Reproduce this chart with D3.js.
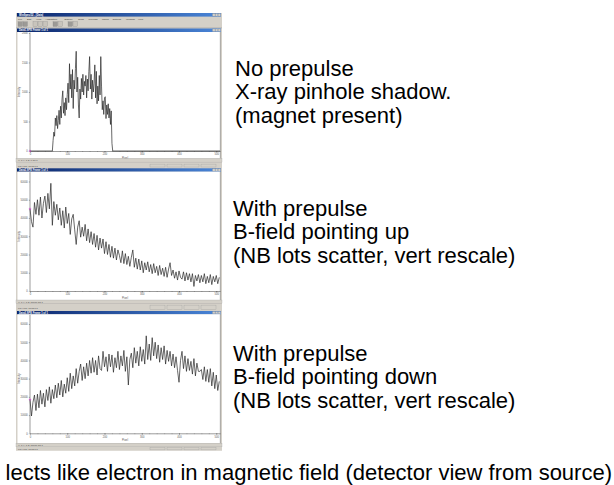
<!DOCTYPE html>
<html>
<head>
<meta charset="utf-8">
<script src="https://cdn.jsdelivr.net/npm/d3@7"></script>
<style>
  body { margin: 0; background: #fff; }
  svg { display: block; }
  text { font-family: "Liberation Sans", Arial, Helvetica, sans-serif; }
</style>
</head>
<body>
<svg id="chart" width="614" height="485"></svg>
<script>
// ---- data ----
var pixelTicks = [0, 100, 200, 300, 400, 500];
var lowTicks = [0, 500, 1000, 1500, 2000];
var highTicks = [0, 10000, 20000, 30000, 40000, 50000, 60000];

// no prepulse: flat zero outside pixels 62..220, sampled every 2 pixels
var noPrepulseStart = 62, noPrepulseStep = 2;
var noPrepulse = [
  180, 320, 250, 560, 430, 600, 380, 520, 690, 450,
  760, 560, 880, 1020, 640, 820, 600, 900, 700, 960,
  1150, 820, 1480, 1050, 1300, 900, 1380, 720, 1200, 1050,
  1400, 1690, 1000, 1250, 780, 560, 1050, 880, 1230, 1000,
  1300, 950, 1180, 1100, 1280, 900, 1220, 1020, 1350, 1600,
  1050, 1300, 880, 1200, 1000, 1150, 1460, 900, 1350, 800,
  1100, 850, 1280, 950, 1600, 1100, 700, 850, 620, 900,
  920, 550, 780, 620, 800, 560, 720, 450, 680, 130
];

// with prepulse, B up / B down: every 4 pixels from 0
var fieldStep = 4;
var fieldUp = [
  45000, 38000, 35000, 48500, 42000, 50000,
  41500, 51500, 40000, 48000, 52000, 43000,
  53500, 45000, 59000, 36000, 49000, 41500,
  47500, 39000, 45500, 36000, 44000, 34500,
  46000, 37000, 42500, 31000, 39500, 42000,
  33500, 25500, 35000, 38500, 29500, 35000,
  30000, 36500, 27500, 34000, 26500, 32500,
  25500, 31500, 24000, 30500, 22500, 29000,
  23500, 28500, 20500, 27000, 20000, 25500,
  18500, 24500, 18000, 23500, 17000, 22500,
  19500, 15500, 22000, 15000, 20500, 14500,
  19000, 13500, 18500, 22500, 13000, 18000,
  12000, 17500, 11500, 16500, 10000, 15500,
  11500, 16000, 10500, 14500, 9500, 15000,
  10000, 13500, 8500, 14000, 9000, 12500,
  8000, 13000, 7500, 12000, 15500, 8500,
  11500, 7000, 10500, 6000, 11000, 7500,
  6500, 10500, 5500, 10000, 6000, 9500,
  5000, 9500, 2500, 8500, 5500, 9000,
  4500, 8500, 5000, 9500, 4000, 8000,
  4500, 9000, 3500, 8000, 5000, 8500,
  4000, 7500
];
var fieldDown = [
  18500, 9500, 17000, 21000, 12500, 21500,
  14000, 23500, 16000, 22000, 14500, 24000,
  18000, 25500, 16500, 24000, 19000, 26500,
  19500, 27500, 21000, 29000, 20000, 27000,
  22000, 30500, 23000, 33000, 24500, 31500,
  26000, 35500, 27500, 34000, 38000, 29000,
  36500, 30000, 38500, 31500, 40000, 33000,
  41500, 33500, 40000, 32000, 42500, 35500,
  34500, 45000, 36500, 42000, 34000, 43500,
  36500, 43000, 33500, 41500, 36000, 45000,
  35000, 42500, 37000, 45500, 34000, 42000,
  26500, 40500, 44000, 36000, 47000, 38500,
  45000, 37000, 47500, 39500, 46000, 38000,
  53500, 40500, 49000, 40000, 52500, 42500,
  50000, 41000, 48500, 39000, 47000, 40500,
  48000, 38000, 45500, 39500, 45000, 37000,
  43500, 36000, 42000, 34500, 28000, 40000,
  45000, 35500, 42500, 34000, 41000, 34500,
  39500, 32500, 41000, 31500, 38500, 34000,
  34000, 35000, 29500, 36500, 28500, 35000,
  28000, 35500, 26000, 33500, 24500, 32000,
  23500, 28500
];

var captions = [
  ["No prepulse", "X-ray pinhole shadow.", "(magnet present)"],
  ["With prepulse", "B-field pointing up", "(NB lots scatter, vert rescale)"],
  ["With prepulse", "B-field pointing down", "(NB lots scatter, vert rescale)"]
];
var menuItems = ["File", "Edit", "View", "Acquisition", "Display", "Tools", "Process", "Macro", "Options", "Window", "Help"];
var footer = "lects like electron in magnetic field (detector view from source)";

// ---- build point lists ----
var pts1 = [{x: 0, y: 0}, {x: noPrepulseStart - 2, y: 0}];
noPrepulse.forEach(function(v, i) { pts1.push({x: noPrepulseStart + i * noPrepulseStep, y: v}); });
pts1.push({x: noPrepulseStart + noPrepulse.length * noPrepulseStep, y: 0}, {x: 510, y: 0});
var pts2 = fieldUp.map(function(v, i) { return {x: i * fieldStep, y: v}; });
var pts3 = fieldDown.map(function(v, i) { return {x: i * fieldStep, y: v}; });

// ---- layout of each screenshot ----
var panels = [
  {app: true, top: 13, childTitle: 28.5, plotTop: 32, y0: 151, yTopPx: 33, yMax: 2000, ticks: lowTicks,
   status: 158.5, bottom: 163, data: pts1, capX: 235, capY: 76},
  {app: false, top: 163, childTitle: 168.3, plotTop: 171.7, y0: 291, yTopPx: 181.5, yMax: 60000, ticks: highTicks,
   status: 300, bottom: 304, data: pts2, capX: 233, capY: 216},
  {app: false, top: 304, childTitle: 311, plotTop: 314.3, y0: 433.3, yTopPx: 324, yMax: 60000, ticks: highTicks,
   status: 443.3, bottom: 450.5, data: pts3, capX: 233, capY: 361}
];

var svg = d3.select("#chart");
var defs = svg.append("defs");
var grad = defs.append("linearGradient").attr("id", "titleGrad");
grad.append("stop").attr("offset", "0%").attr("stop-color", "#0a246a");
grad.append("stop").attr("offset", "100%").attr("stop-color", "#4a86d8");

var winL = 16, winR = 222, plotL = 30, plotR = 220;
var x = d3.scaleLinear().domain([0, 510]).range([plotL, plotR]);

function titleBar(g, y, h, label) {
  g.append("rect").attr("x", winL + 1).attr("y", y).attr("width", winR - winL - 2).attr("height", h)
    .attr("fill", "url(#titleGrad)");
  g.append("text").attr("x", winL + 3).attr("y", y + h - 0.8).attr("font-size", 2.6)
    .attr("fill", "#fff").attr("font-weight", "bold").text(label);
  [0, 1, 2].forEach(function(k) {
    g.append("rect").attr("x", winR - 9.5 + k * 2.8).attr("y", y + 0.5).attr("width", 2.5).attr("height", h - 1)
      .attr("fill", "#d4d0c8").attr("stroke", "#808080").attr("stroke-width", 0.2);
  });
}

function grayBar(g, y, h, label) {
  g.append("rect").attr("x", winL).attr("y", y).attr("width", winR - winL).attr("height", h)
    .attr("fill", "#d4d0c8");
  g.append("text").attr("x", winL + 2).attr("y", y + h - 1).attr("font-size", 2.4)
    .attr("fill", "#444").text(label);
  [0, 1, 2, 3].forEach(function(k) {
    g.append("rect").attr("x", 150 + k * 17).attr("y", y + 0.6).attr("width", 15).attr("height", h - 1.2)
      .attr("fill", "none").attr("stroke", "#9a9a9a").attr("stroke-width", 0.3);
  });
}

panels.forEach(function(p, idx) {
  var g = svg.append("g");

  // window frame
  g.append("rect").attr("x", winL).attr("y", p.top).attr("width", winR - winL).attr("height", p.bottom - p.top)
    .attr("fill", "#d4d0c8");

  if (p.app) {
    titleBar(g, p.top, 3.6, "WinSpec/32 - [Data]");
    var mx = winL + 2;
    menuItems.forEach(function(m) {
      g.append("text").attr("x", mx).attr("y", p.top + 7.4).attr("font-size", 2.5).attr("fill", "#333").text(m);
      mx += m.length * 1.5 + 3;
    });
    [0, 1, 3, 4, 5, 7, 8, 10, 11].forEach(function(k) {
      g.append("rect").attr("x", winL + 2 + k * 5).attr("y", p.top + 8.8).attr("width", 4.4).attr("height", 4.6)
        .attr("fill", k === 0 || k === 1 || k === 7 || k === 10 ? "#9c9a96" : "#c8c4bc")
        .attr("stroke", "#7a7a7a").attr("stroke-width", 0.25);
    });
    g.append("line").attr("x1", winL).attr("x2", winR).attr("y1", p.childTitle - 0.6).attr("y2", p.childTitle - 0.6)
      .attr("stroke", "#8a8a8a").attr("stroke-width", 0.4);
  } else {
    grayBar(g, p.top + 0.5, p.childTitle - p.top - 1.2, "For Help, press F1");
  }
  titleBar(g, p.childTitle, p.plotTop - p.childTitle, "Data" + (idx + 1) + ".SPE  Frame 1 of 1");

  // plot area
  g.append("rect").attr("x", winL + 1.5).attr("y", p.plotTop).attr("width", plotR - winL - 1.5)
    .attr("height", p.status - p.plotTop).attr("fill", "#fff");
  g.append("line").attr("x1", plotR + 0.3).attr("x2", plotR + 0.3).attr("y1", p.plotTop).attr("y2", p.status)
    .attr("stroke", "#8a8a8a").attr("stroke-width", 0.6);

  var y = d3.scaleLinear().domain([0, p.yMax]).range([p.y0, p.yTopPx]);

  // minor ticks
  g.append("g").attr("transform", "translate(0," + p.y0 + ")")
    .call(d3.axisBottom(x).tickValues(d3.range(0, 511, 20)).tickSize(0.9).tickFormat(""))
    .call(function(a) { a.select(".domain").remove(); a.selectAll("line").attr("stroke", "#555").attr("stroke-width", 0.3); });
  var xa = g.append("g").attr("transform", "translate(0," + p.y0 + ")")
    .call(d3.axisBottom(x).tickValues(pixelTicks).tickSize(1.6).tickSizeOuter(0).tickPadding(0.8).tickFormat(d3.format("d")));
  xa.select(".domain").attr("stroke", "#222").attr("stroke-width", 0.45);
  xa.selectAll("line").attr("stroke", "#333").attr("stroke-width", 0.35);
  xa.selectAll("text").attr("font-size", 2.6).attr("fill", "#555").attr("font-family", "Liberation Sans, Arial, sans-serif");

  var ya = g.append("g").attr("transform", "translate(" + plotL + ",0)")
    .call(d3.axisLeft(y).tickValues(p.ticks).tickSize(1.2).tickSizeOuter(0).tickPadding(1).tickFormat(d3.format("d")));
  ya.select(".domain").remove();
  ya.selectAll("line").attr("stroke", "#333").attr("stroke-width", 0.35);
  ya.selectAll("text").attr("font-size", 2.6).attr("fill", "#555").attr("font-family", "Liberation Sans, Arial, sans-serif");
  g.append("line").attr("x1", plotL).attr("x2", plotL).attr("y1", p.plotTop + 0.5).attr("y2", p.y0)
    .attr("stroke", "#222").attr("stroke-width", 0.45);

  g.append("text").attr("x", (plotL + plotR) / 2).attr("y", p.y0 + 7.5).attr("text-anchor", "middle")
    .attr("font-size", 2.8).attr("fill", "#555").text("Pixel");
  g.append("text").attr("transform", "translate(19.8," + ((p.y0 + p.yTopPx) / 2) + ") rotate(-90)")
    .attr("text-anchor", "middle").attr("font-size", 2.8).attr("fill", "#555").text("Intensity");

  // spectrum trace
  var line = d3.line().x(function(d) { return x(d.x); }).y(function(d) { return y(d.y); });
  g.append("path").datum(p.data).attr("d", line).attr("fill", "none")
    .attr("stroke", "#262626").attr("stroke-width", 0.7).attr("stroke-linejoin", "round");

  // cursor mark at first point
  var first = p.data[0];
  g.append("path").attr("d", "M" + (x(first.x) - 1.2) + "," + y(first.y) + "h2.4M" + x(first.x) + "," + (y(first.y) - 1.2) + "v2.4")
    .attr("stroke", "#d040d0").attr("stroke-width", 0.6);

  // status bar
  g.append("rect").attr("x", winL).attr("y", p.status).attr("width", winR - winL).attr("height", 3.6)
    .attr("fill", "#d4d0c8").attr("stroke", "#a0a0a0").attr("stroke-width", 0.3);
  g.append("text").attr("x", winL + 2).attr("y", p.status + 2.8).attr("font-size", 2.4).attr("fill", "#444")
    .text("X: 1   Y: 1   Z: " + (idx === 0 ? "0" : "16000") + "   Ch 1");

  // caption
  var cap = svg.append("g");
  captions[idx].forEach(function(t, k) {
    cap.append("text").attr("x", p.capX).attr("y", p.capY + k * 23.35).attr("font-size", 22)
      .attr("fill", "#000").text(t);
  });
});

// final app status bar under third window
grayBar(svg.append("g"), 447, 3.5, "For Help, press F1");

svg.append("text").attr("x", 612).attr("y", 480).attr("text-anchor", "end").attr("font-size", 22)
  .attr("fill", "#000").text(footer);
</script>
</body>
</html>
